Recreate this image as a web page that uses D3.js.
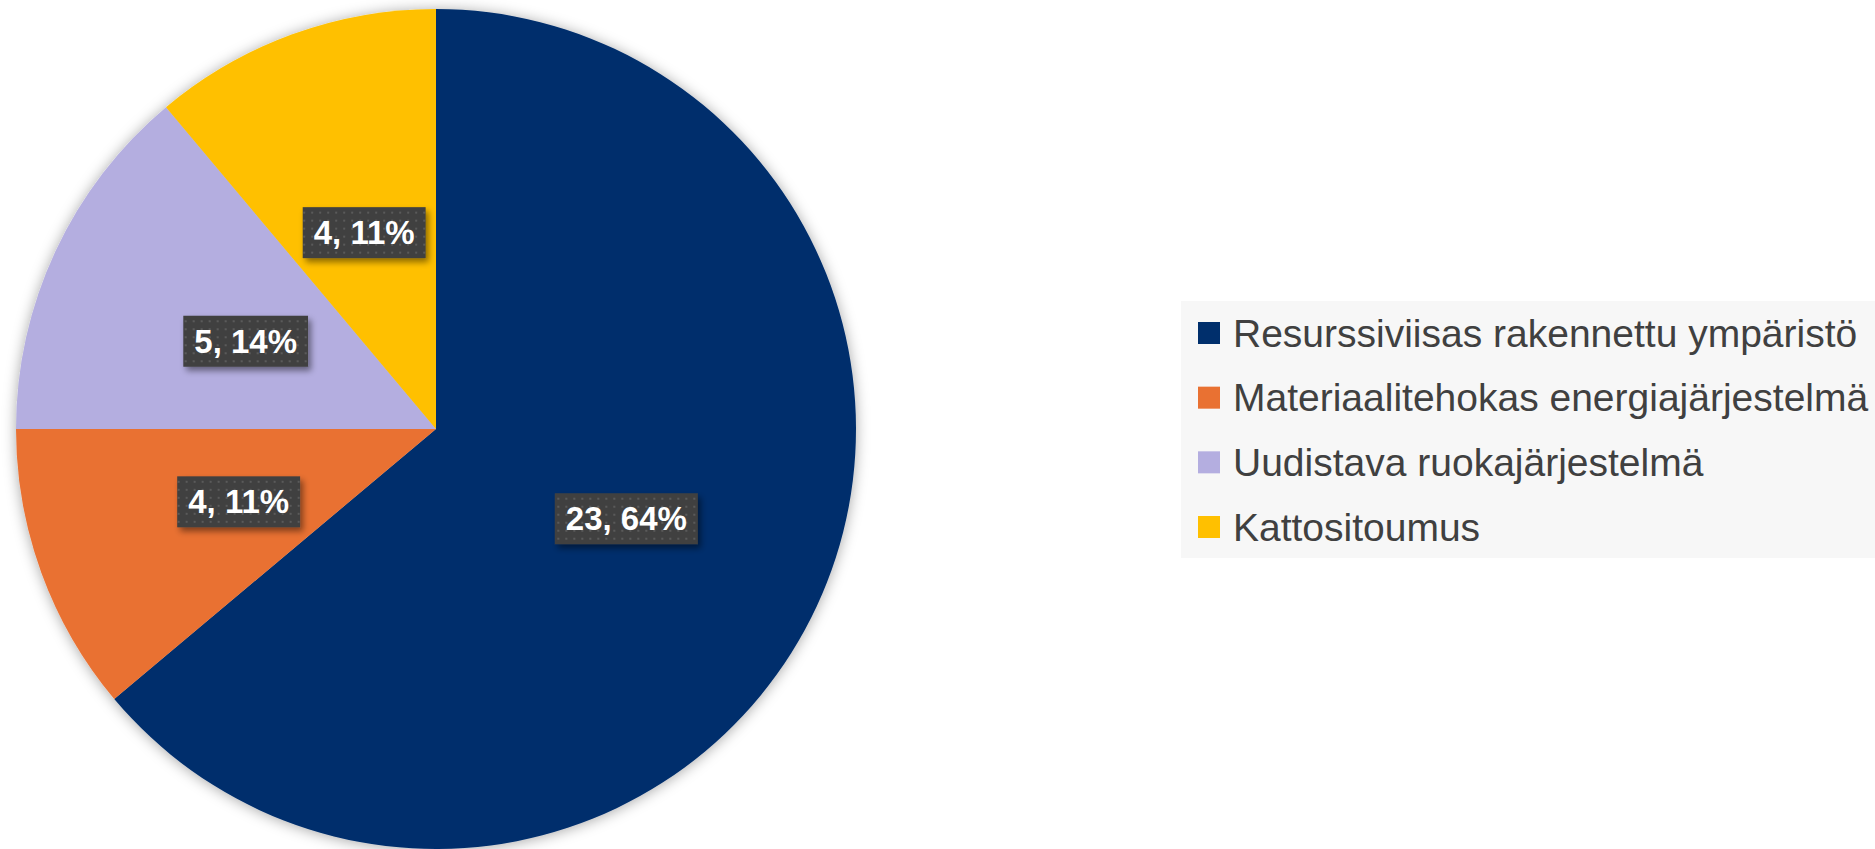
<!DOCTYPE html>
<html>
<head>
<meta charset="utf-8">
<script src="https://cdn.jsdelivr.net/npm/d3@7"></script>
<style>
  html, body { margin: 0; padding: 0; background: #ffffff; }
  svg { display: block; }
</style>
</head>
<body>
<svg id="chart" width="1875" height="849"></svg>
<script>
const categories = [
  "Resurssiviisas rakennettu ympäristö",
  "Materiaalitehokas energiajärjestelmä",
  "Uudistava ruokajärjestelmä",
  "Kattositoumus"
];
const values = [23, 4, 5, 4];
const colors = ["#002F6C", "#E97132", "#B4AEE0", "#FFC000"];

const svg = d3.select("#chart");
const W = 1875, H = 849;
const cx = 436, cy = 429, R = 420;

const defs = svg.append("defs");
const f1 = defs.append("filter").attr("id", "pieShadow")
  .attr("x", "-10%").attr("y", "-10%").attr("width", "120%").attr("height", "120%");
f1.append("feDropShadow").attr("dx", 0).attr("dy", 1).attr("stdDeviation", 7)
  .attr("flood-color", "#000").attr("flood-opacity", 0.35);

const f2 = defs.append("filter").attr("id", "lblShadow")
  .attr("x", "-20%").attr("y", "-30%").attr("width", "150%").attr("height", "180%");
f2.append("feDropShadow").attr("dx", 3).attr("dy", 4).attr("stdDeviation", 3)
  .attr("flood-color", "#000").attr("flood-opacity", 0.45);

const pat = defs.append("pattern").attr("id", "dots")
  .attr("patternUnits", "userSpaceOnUse").attr("width", 8).attr("height", 8);
pat.append("rect").attr("width", 8).attr("height", 8).attr("fill", "#404040");
pat.append("rect").attr("x", 3).attr("y", 3).attr("width", 2).attr("height", 2).attr("fill", "#5a5a5a");

const color = d3.scaleOrdinal().domain(categories).range(colors);
const total = d3.sum(values);
const data = categories.map((c, i) => ({ cat: c, value: values[i] }));

const pie = d3.pie().value(d => d.value).sort(null);
const arc = d3.arc().innerRadius(0).outerRadius(R);
const arcs = pie(data);

const g = svg.append("g").attr("transform", `translate(${cx},${cy})`);
g.append("g").attr("filter", "url(#pieShadow)")
  .selectAll("path").data(arcs).join("path")
  .attr("d", arc)
  .attr("fill", d => color(d.data.cat));

// labels
const lg = g.append("g");
arcs.forEach(d => {
  const [x, y] = arc.centroid(d);
  const pct = Math.round(d.data.value / total * 100);
  const grp = lg.append("g").attr("transform", `translate(${x},${y + 1})`);
  const rect = grp.append("rect").attr("fill", "url(#dots)").attr("filter", "url(#lblShadow)");
  const t = grp.append("text")
    .attr("text-anchor", "middle").attr("dominant-baseline", "central")
    .attr("font-family", "Liberation Sans, Arial, sans-serif")
    .attr("font-weight", "bold").attr("font-size", 33)
    .attr("fill", "#ffffff")
    .text(`${d.data.value}, ${pct}%`);
  const bb = t.node().getBBox();
  const w = bb.width + 22, h = 51;
  rect.attr("x", -w / 2).attr("y", -h / 2).attr("width", w).attr("height", h);
});

// legend
const legX = 1181, legY = 301, legW = W - 1181, legH = 257;
svg.append("rect").attr("x", legX).attr("y", legY).attr("width", legW).attr("height", legH)
  .attr("fill", "#F7F7F7");
const ly = d3.scalePoint().domain(categories).range([333, 527]);
const items = svg.append("g").selectAll("g").data(categories).join("g")
  .attr("transform", d => `translate(1198,${ly(d)})`);
items.append("rect").attr("x", 0).attr("y", -11).attr("width", 22).attr("height", 22)
  .attr("fill", d => color(d));
items.append("text").attr("x", 35).attr("y", 0)
  .attr("dominant-baseline", "central")
  .attr("font-family", "Liberation Sans, Arial, sans-serif")
  .attr("font-size", 39).attr("fill", "#404040")
  .text(d => d);
</script>
</body>
</html>
